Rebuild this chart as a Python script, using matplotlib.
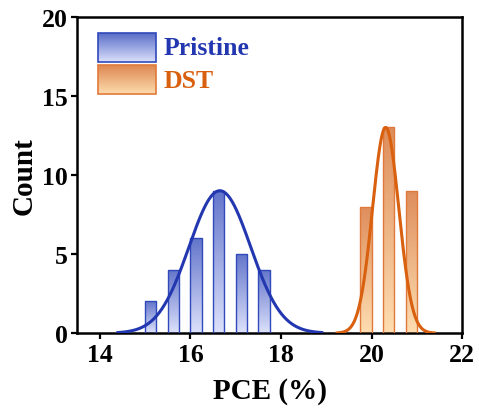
import numpy as np
import matplotlib
matplotlib.use("Agg")
import matplotlib.pyplot as plt
from matplotlib.colors import LinearSegmentedColormap
from matplotlib.patches import Rectangle

plt.rcParams['font.family'] = ['Liberation Serif', 'DejaVu Serif']
plt.rcParams['font.weight'] = 'bold'

# histogram data
pristine_left = [15.0, 15.5, 16.0, 16.5, 17.0, 17.5]
pristine_count = [2, 4, 6, 9, 5, 4]
dst_left = [19.75, 20.25, 20.75]
dst_count = [8, 13, 9]
bar_w = 0.25

# gaussian fit parameters (mu, sigma, peak, x range)
pristine_fit = (16.65, 0.68, 9.0, 14.4, 18.9)
dst_fit = (20.31, 0.29, 13.0, 19.24, 21.38)

blue_line = '#2338b0'
blue_edge = '#3049bb'
orange_line = '#d8600e'
orange_edge = '#e07a3a'
blue_cmap = LinearSegmentedColormap.from_list('b', ['#dbe0fb', '#5a6dc8'])
orange_cmap = LinearSegmentedColormap.from_list('o', ['#fedcad', '#dd8752'])

fig = plt.figure(figsize=(4.79, 4.10), dpi=100)
ax = fig.add_axes([0.161, 0.185, 0.804, 0.772])
ax.set_xlim(13.5, 22)
ax.set_ylim(0, 20)

grad = np.linspace(0, 1, 256).reshape(-1, 1)


def grad_bars(lefts, counts, cmap, edge):
    bars = ax.bar(lefts, counts, width=bar_w, align='edge', facecolor='none',
                  edgecolor=edge, linewidth=1.0, zorder=3)
    for b in bars:
        x0, y0 = b.get_x(), b.get_y()
        w, h = b.get_width(), b.get_height()
        im = ax.imshow(grad, cmap=cmap, origin='lower', aspect='auto',
                       extent=[x0, x0 + w, y0, y0 + h], zorder=2, alpha=0.95)
        im.set_clip_path(b)


grad_bars(pristine_left, pristine_count, blue_cmap, blue_edge)
grad_bars(dst_left, dst_count, orange_cmap, orange_edge)
ax.set_xlim(13.5, 22)
ax.set_ylim(0, 20)


def fit_line(params, color):
    mu, sig, peak, lo, hi = params
    xs = np.linspace(lo, hi, 400)
    ax.plot(xs, peak * np.exp(-(xs - mu) ** 2 / (2 * sig ** 2)), color=color,
            lw=2.2, zorder=4)


fit_line(pristine_fit, blue_line)
fit_line(dst_fit, orange_line)

# legend drawn by hand
for (y0, cmap, edge, label, tcol) in [
        (0.858, blue_cmap, blue_edge, 'Pristine', blue_line),
        (0.756, orange_cmap, orange_edge, 'DST', orange_line)]:
    im = ax.imshow(grad, cmap=cmap, origin='lower', aspect='auto',
                   extent=[0.055, 0.205, y0, y0 + 0.09],
                   transform=ax.transAxes, zorder=5)
    r = Rectangle((0.055, y0), 0.15, 0.09, transform=ax.transAxes,
                  facecolor='none', edgecolor=edge, lw=1.2, zorder=6)
    ax.add_patch(r)
    ax.text(0.225, y0 + 0.043, label, transform=ax.transAxes, color=tcol,
            fontsize=18.5, fontweight='bold', va='center', ha='left')

ax.set_xticks([14, 16, 18, 20, 22])
ax.set_yticks([0, 5, 10, 15, 20])
ax.tick_params(direction='out', length=4, width=1.6, labelsize=18.5, pad=3)
for lab in ax.get_xticklabels() + ax.get_yticklabels():
    lab.set_fontweight('bold')
for s in ax.spines.values():
    s.set_linewidth(1.8)

ax.set_xlabel('PCE (%)', fontsize=21, fontweight='bold', labelpad=8)
ax.set_ylabel('Count', fontsize=21, fontweight='bold', labelpad=3)

fig.savefig('out.png', dpi=100)
